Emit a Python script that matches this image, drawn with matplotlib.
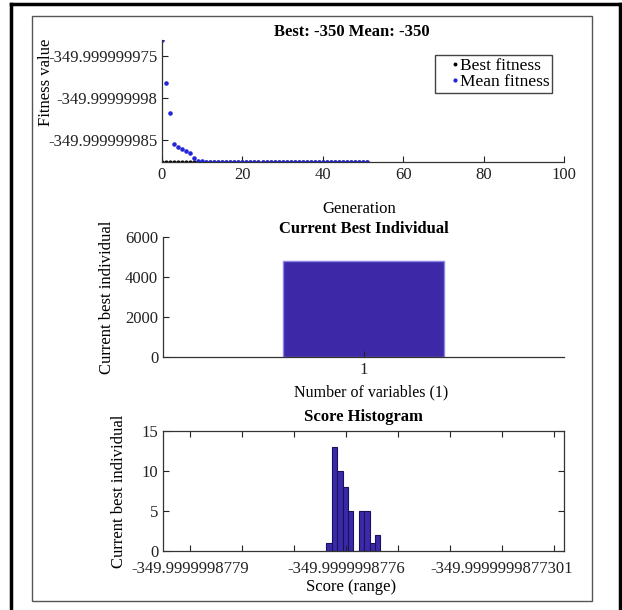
import numpy as np
import matplotlib
matplotlib.use("Agg")
import matplotlib.pyplot as plt
from matplotlib.lines import Line2D
from matplotlib.patches import Rectangle

plt.rcParams['font.family'] = ['Liberation Serif', 'DejaVu Serif']
plt.rcParams['font.size'] = 12
plt.rcParams['axes.titlesize'] = 12
plt.rcParams['xtick.direction'] = 'in'
plt.rcParams['ytick.direction'] = 'in'

# --- data ---
generations = list(range(0, 52))
best_fitness = [-349.99999998762] * 52
mean_fitness = [-349.9999999731, -349.9999999782, -349.9999999818, -349.9999999855,
                -349.9999999858, -349.9999999861, -349.9999999863, -349.9999999865,
                -349.9999999871, -349.9999999875, -349.9999999875] + [-349.99999998761] * 41
fit_ticks = [-349.999999985, -349.99999998, -349.999999975]
fit_tick_labels = ['-349.999999985', '-349.99999998', '-349.999999975']

variables = [1]
best_individual = [4800]

# histogram: bin edges in tick-step units, counts per bin
hist_edges = [2.62, 2.724, 2.828, 2.932, 3.036, 3.14, 3.244, 3.348, 3.452, 3.556, 3.66]
hist_counts = [1, 13, 10, 8, 5, 0, 5, 5, 1, 2]
score_ticks = [0, 1, 2, 3, 4, 5, 6, 7]
score_labels = ['-349.9999998779', '', '', '-349.9999998776', '', '', '-349.9999999877301', '']

W, H = 622, 610
fig = plt.figure(figsize=(W / 100, H / 100), dpi=100)

def px_axes(l, t, r, b):
    return fig.add_axes([l / W, 1 - b / H, (r - l) / W, (b - t) / H])

# frames around the figure
fig.add_artist(Rectangle((32 / W, 1 - 601 / H), 560 / W, 585 / H, transform=fig.transFigure,
                         fill=False, edgecolor='#555555', lw=1))
for xs, ys in [([11, 11], [4, 610]), ([11, 620], [4, 4]), ([620, 620], [4, 610])]:
    fig.add_artist(Line2D([x / W for x in xs], [1 - y / H for y in ys],
                          transform=fig.transFigure, color='black', lw=2.5))

# --- top: fitness over generations ---
ax1 = px_axes(162, 40, 564, 162)
ax1.plot(generations, best_fitness, '.', color='black', ms=4, label='Best fitness')
ax1.plot(generations, mean_fitness, '.', color='#2424d8', ms=4.5, label='Mean fitness')
ax1.set_xlim(0, 100)
ax1.set_ylim(-349.99999998762, -349.9999999731)
ax1.set_xticks([0, 20, 40, 60, 80, 100])
ax1.set_yticks(fit_ticks)
ax1.set_yticklabels(fit_tick_labels)
ax1.spines['top'].set_visible(False)
ax1.spines['right'].set_visible(False)
ax1.set_title('Best: -350 Mean: -350', fontweight='bold', pad=1, x=0.473)
ax1.set_xlabel('Generation', va='center')
ax1.xaxis.set_label_coords(0.49, -0.385)
ax1.set_ylabel('Fitness value', va='center')
ax1.yaxis.set_label_coords(-0.289, 0.65)
fig.legend(handles=ax1.get_lines(), loc='upper right', bbox_to_anchor=(552 / W, 1 - 55 / H),
           bbox_transform=fig.transFigure, borderaxespad=0, fancybox=False, framealpha=1,
           edgecolor='#444444', handlelength=2.0, handletextpad=-0.7, borderpad=0.15,
           labelspacing=0.0, markerscale=0.9, fontsize=12.5)

# --- middle: current best individual ---
ax2 = px_axes(163, 237, 564, 357)
ax2.bar(variables, best_individual, width=0.8, color='#3d28a8', edgecolor='#8a86e8', lw=1)
ax2.set_xlim(0, 2)
ax2.set_ylim(0, 6000)
ax2.set_xticks([1])
ax2.set_yticks([0, 2000, 4000, 6000])
ax2.spines['top'].set_visible(False)
ax2.spines['right'].set_visible(False)
ax2.set_title('Current Best Individual', fontweight='bold', pad=2)
ax2.set_xlabel('Number of variables (1)', va='center', fontsize=11.5)
ax2.xaxis.set_label_coords(0.52, -0.292)
ax2.set_ylabel('Current best individual', va='center')
ax2.yaxis.set_label_coords(-0.14, 0.5)

# --- bottom: score histogram ---
ax3 = px_axes(163, 431, 564, 551)
ax3.bar(hist_edges[:-1], hist_counts, width=np.diff(hist_edges), align='edge',
        color='#3a2aa8', edgecolor='#1a1060', lw=0.8)
ax3.set_xlim(-0.52, 7.19)
ax3.set_ylim(0, 15)
ax3.set_xticks(score_ticks)
ax3.set_xticklabels(score_labels)
ax3.set_yticks([0, 5, 10, 15])
ax3.set_title('Score Histogram', fontweight='bold', pad=7)
ax3.set_xlabel('Score (range)', va='center')
ax3.xaxis.set_label_coords(0.47, -0.3)
ax3.set_ylabel('Current best individual', va='center')
ax3.yaxis.set_label_coords(-0.11, 0.5)

for ax in (ax1, ax2, ax3):
    ax.tick_params(length=4, width=0.8, colors='#222222', labelcolor='#222222')
    for s in ax.spines.values():
        s.set_color('#333333')
        s.set_linewidth(0.9)
ax3.tick_params(axis='x', pad=7)
ax3.tick_params(top=True, right=True)

fig.savefig('out.png', dpi=100)
